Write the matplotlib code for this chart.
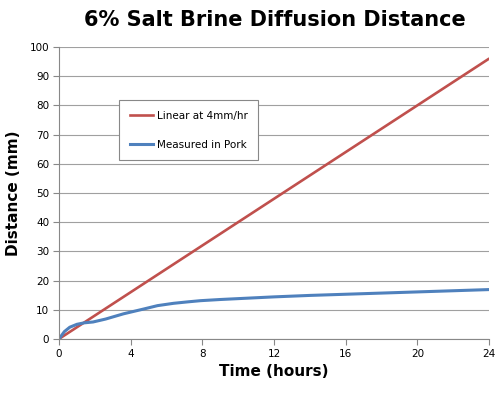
import numpy as np
import matplotlib.pyplot as plt
from matplotlib.lines import Line2D

# data
linear_t = [0, 24]
linear_mm = [0, 96]

pork_t = [0, 0.3, 0.6, 1.0, 1.4, 1.9, 2.6, 3.6, 4.7, 5.5, 6.4, 7.2, 7.9, 9.0, 10.0,
          12.0, 14.0, 16.0, 18.0, 20.0, 22.0, 24.0]
pork_mm = [0, 2.5, 4.0, 5.0, 5.5, 5.8, 6.8, 8.6, 10.2, 11.4, 12.2, 12.7, 13.1, 13.5, 13.8,
           14.4, 14.9, 15.3, 15.7, 16.1, 16.5, 16.9]

RED = '#C0504D'
BLUE = '#4F81BD'
GRID = '#A0A0A0'

fig = plt.figure(figsize=(5.0, 3.95), dpi=100)
ax = fig.add_axes([0.118, 0.142, 0.860, 0.739])

ax.plot(linear_t, linear_mm, color=RED, lw=1.9, solid_capstyle='round')
ax.plot(pork_t, pork_mm, color=BLUE, lw=2.2, solid_capstyle='round')

ax.set_xlim(0, 24)
ax.set_ylim(0, 100)
ax.set_xticks(range(0, 25, 4))
ax.set_yticks(range(0, 101, 10))
ax.yaxis.grid(True, color=GRID, lw=0.8)
ax.set_axisbelow(True)

for s in ('top', 'right'):
    ax.spines[s].set_visible(False)
for s in ('left', 'bottom'):
    ax.spines[s].set_color('#888888')
    ax.spines[s].set_linewidth(0.8)
ax.tick_params(axis='both', colors='#888888', length=4, width=0.8,
               labelsize=7.5, labelcolor='black', pad=3)

ax.set_xlabel('Time (hours)', fontsize=11, fontweight='bold', labelpad=4)
ax.set_ylabel('Distance (mm)', fontsize=11, fontweight='bold', labelpad=6)
fig.suptitle('6% Salt Brine Diffusion Distance', x=0.55, y=0.975,
             fontsize=15, fontweight='bold')

handles = [Line2D([0], [0], color=RED, lw=1.9, label='Linear at 4mm/hr'),
           Line2D([0], [0], color=BLUE, lw=2.2, label='Measured in Pork')]
leg = ax.legend(handles=handles, loc='upper left', bbox_to_anchor=(0.14, 0.818),
                borderaxespad=0, fontsize=7.5, frameon=True, fancybox=False,
                edgecolor='#888888', framealpha=1, handlelength=2.2,
                handletextpad=0.4, borderpad=1.0, labelspacing=1.85)
leg.get_frame().set_linewidth(0.8)

fig.savefig('out.png', dpi=100)
